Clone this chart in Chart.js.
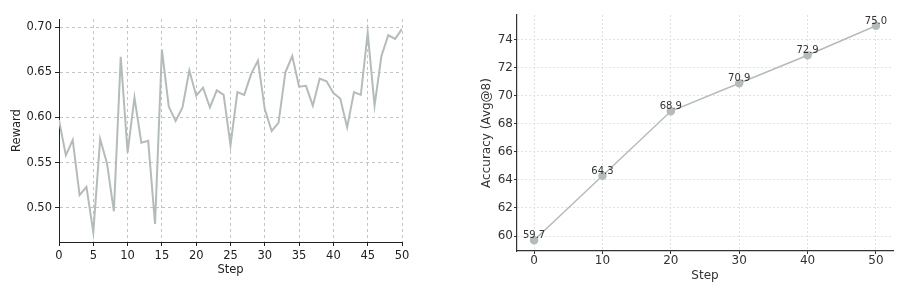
<!DOCTYPE html>
<html>
<head>
<meta charset="utf-8">
<script src="https://cdn.jsdelivr.net/npm/chart.js@4/dist/chart.umd.min.js"></script>
<style>
  html, body { margin: 0; padding: 0; background: #fff; }
  #wrap { position: relative; width: 900px; height: 293px; }
  #reward-box { position: absolute; left: 0; top: 0; width: 450px; height: 293px; }
  #acc-box { position: absolute; left: 450px; top: 0; width: 450px; height: 293px; }
</style>
</head>
<body>
<div id="wrap">
  <div id="reward-box"><canvas id="reward-chart" width="450" height="293"></canvas></div>
  <div id="acc-box"><canvas id="acc-chart" width="450" height="293"></canvas></div>
</div>
<script>
// left panel: training reward per step
const rewardSteps = [
  0, 1, 2, 3, 4, 5, 6, 7, 8, 9, 10, 11, 12, 13, 14, 15, 16, 17, 18, 19, 20, 21, 22, 23, 24, 25,
  26, 27, 28, 29, 30, 31, 32, 33, 34, 35, 36, 37, 38, 39, 40, 41, 42, 43, 44, 45, 46, 47, 48, 49, 50
];
const rewardValues = [
  0.597, 0.558, 0.575, 0.514, 0.523, 0.473, 0.576, 0.549, 0.496, 0.667, 0.561, 0.622, 0.572,
  0.574, 0.482, 0.675, 0.612, 0.596, 0.611, 0.652, 0.624, 0.633, 0.611, 0.630, 0.625, 0.569,
  0.628, 0.625, 0.648, 0.663, 0.609, 0.585, 0.594, 0.650, 0.668, 0.634, 0.635, 0.613, 0.643,
  0.640, 0.627, 0.621, 0.589, 0.628, 0.625, 0.694, 0.613, 0.668, 0.691, 0.687, 0.698
];
const rewardXTicks = [0, 5, 10, 15, 20, 25, 30, 35, 40, 45, 50];
const rewardYTicks = [0.50, 0.55, 0.60, 0.65, 0.70];

// right panel: accuracy at checkpoints
const accSteps = [0, 10, 20, 30, 40, 50];
const accValues = [59.7, 64.3, 68.9, 70.9, 72.9, 75.0];
const accXTicks = [0, 10, 20, 30, 40, 50];
const accYTicks = [60, 62, 64, 66, 68, 70, 72, 74];

const lineColor = "#b4bcb8";
const fontFamily = "'DejaVu Sans', sans-serif";

function fixedTicks(values) {
  return (scale) => {
    scale.ticks = values.map((v) => ({ value: v }));
  };
}

const rewardChart = new Chart(document.getElementById("reward-chart"), {
  type: "line",
  data: {
    datasets: [
      {
        data: rewardSteps.map((s, i) => ({ x: s, y: rewardValues[i] })),
        borderColor: lineColor,
        borderWidth: 2,
        pointRadius: 0,
        tension: 0,
        fill: false
      }
    ]
  },
  options: {
    responsive: false,
    animation: false,
    layout: { padding: { left: 0, right: 48, top: 19, bottom: 0 } },
    plugins: { legend: { display: false }, tooltip: { enabled: false } },
    scales: {
      x: {
        type: "linear",
        min: 0,
        max: 50,
        afterBuildTicks: fixedTicks(rewardXTicks),
        afterFit: (scale) => { scale.height = 51; },
        grid: { color: "#c4c4c4", lineWidth: 1, tickColor: "#222", tickLength: 4 },
        border: { color: "#222", width: 1, dash: [3, 3] },
        ticks: { color: "#222", padding: 3, maxRotation: 0, font: { family: fontFamily, size: 11.5 } },
        title: {
          display: true,
          text: "Step",
          color: "#222",
          padding: { top: 0, bottom: 16 },
          font: { family: fontFamily, size: 11.5, lineHeight: 1.2 }
        }
      },
      y: {
        min: 0.462,
        max: 0.709,
        afterBuildTicks: fixedTicks(rewardYTicks),
        afterFit: (scale) => { scale.width = 59; },
        grid: { color: "#c4c4c4", lineWidth: 1, tickColor: "#222", tickLength: 4 },
        border: { color: "#222", width: 1, dash: [3, 3] },
        ticks: {
          color: "#222",
          padding: 3,
          font: { family: fontFamily, size: 11.5 },
          callback: (v) => v.toFixed(2)
        },
        title: {
          display: true,
          text: "Reward",
          color: "#222",
          padding: { top: 10, bottom: 0 },
          font: { family: fontFamily, size: 11.5, lineHeight: 1.2 }
        }
      }
    }
  }
});

// draws the value above each point of the accuracy line
const pointLabels = {
  id: "pointLabels",
  afterDatasetsDraw(chart) {
    const ctx = chart.ctx;
    const meta = chart.getDatasetMeta(0);
    ctx.save();
    ctx.font = "10px " + fontFamily;
    ctx.fillStyle = "#333";
    ctx.textAlign = "center";
    ctx.textBaseline = "alphabetic";
    meta.data.forEach((pt, i) => {
      ctx.fillText(accValues[i].toFixed(1), pt.x, pt.y - 2);
    });
    ctx.restore();
  }
};

const accChart = new Chart(document.getElementById("acc-chart"), {
  type: "line",
  data: {
    datasets: [
      {
        data: accSteps.map((s, i) => ({ x: s, y: accValues[i] })),
        borderColor: lineColor,
        borderWidth: 1.5,
        pointRadius: 3.5,
        pointBackgroundColor: lineColor,
        pointBorderColor: lineColor,
        tension: 0,
        fill: false
      }
    ]
  },
  plugins: [pointLabels],
  options: {
    responsive: false,
    animation: false,
    layout: { padding: { left: 0, right: 7, top: 15, bottom: 0 } },
    plugins: { legend: { display: false }, tooltip: { enabled: false } },
    scales: {
      x: {
        type: "linear",
        min: -2.5,
        max: 52.5,
        afterBuildTicks: fixedTicks(accXTicks),
        afterFit: (scale) => { scale.height = 42; },
        grid: { color: "#e0e0e0", lineWidth: 1, tickColor: "#333", tickLength: 3 },
        border: { color: "#333", width: 1.2, dash: [2, 2] },
        ticks: { color: "#333", padding: 0, maxRotation: 0, font: { family: fontFamily, size: 12 } },
        title: {
          display: true,
          text: "Step",
          color: "#333",
          padding: { top: 0, bottom: 10 },
          font: { family: fontFamily, size: 12, lineHeight: 1.2 }
        }
      },
      y: {
        min: 58.93,
        max: 75.77,
        afterBuildTicks: fixedTicks(accYTicks),
        afterFit: (scale) => { scale.width = 67; },
        grid: { color: "#e0e0e0", lineWidth: 1, tickColor: "#333", tickLength: 3 },
        border: { color: "#333", width: 1.2, dash: [2, 2] },
        ticks: { color: "#333", padding: 1, font: { family: fontFamily, size: 12 } },
        title: {
          display: true,
          text: "Accuracy (Avg@8)",
          color: "#333",
          padding: { top: 30, bottom: 0 },
          font: { family: fontFamily, size: 12, lineHeight: 1.2 }
        }
      }
    }
  }
});
</script>
</body>
</html>
